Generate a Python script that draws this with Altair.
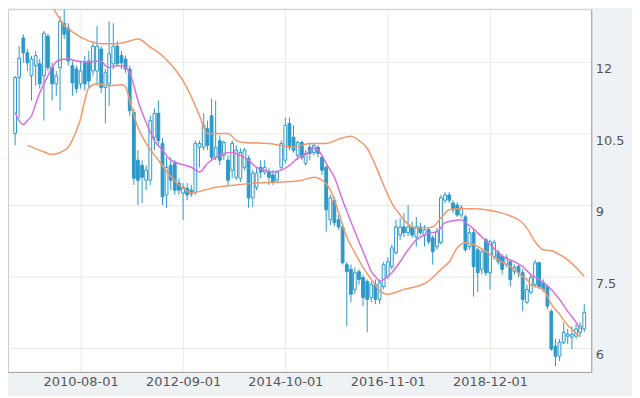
import altair as alt
import pandas as pd

# ---------------- data ----------------
start_month = "2009-04-01"
n_months = 140

opens = [10.50, 11.67, 12.50, 12.19, 11.71, 11.92, 11.96, 11.71, 12.54, 11.88,
         11.54, 11.88, 12.81, 12.71, 11.92, 11.85, 11.54, 11.98, 12.02, 11.81,
         11.81, 12.27, 11.46, 11.54, 11.96, 12.33, 12.13, 12.06, 11.85, 10.94,
         9.94, 9.83, 9.52, 9.52, 10.42, 10.92, 10.29, 9.21, 9.83, 9.87,
         9.46, 9.25, 9.35, 9.31, 9.27, 10.21, 10.21, 10.60, 10.87, 10.00,
         10.35, 10.04, 9.94, 9.73, 9.58, 9.56, 9.79, 9.98, 9.15, 9.37,
         9.79, 9.69, 9.69, 9.63, 9.52, 9.79, 9.94, 10.71, 10.42, 10.04,
         10.31, 9.87, 10.21, 10.10, 10.21, 10.00, 9.79, 8.69, 9.10, 8.69,
         8.54, 7.75, 7.65, 7.23, 7.60, 7.48, 7.40, 7.06, 7.33, 7.02,
         7.29, 7.50, 7.71, 8.00, 8.37, 8.54, 8.42, 8.54, 8.33, 8.54,
         8.37, 8.48, 8.31, 8.13, 8.21, 9.10, 9.21, 9.04, 9.00, 8.79,
         8.75, 8.13, 8.42, 8.06, 7.65, 8.27, 7.58, 7.92, 8.00, 7.92,
         7.75, 7.81, 7.60, 7.71, 7.58, 6.96, 7.17, 7.33, 7.79, 7.37,
         7.29, 6.77, 6.04, 5.83, 6.12, 6.25, 6.23, 6.25, 6.33, 6.40]

closes = [11.67, 12.08, 12.19, 11.98, 12.06, 12.13, 11.54, 12.60, 11.88, 11.54,
          11.71, 12.85, 12.58, 12.02, 11.56, 11.44, 11.81, 11.54, 11.60, 12.33,
          12.33, 11.46, 11.77, 12.17, 12.33, 11.96, 11.98, 11.85, 10.98, 9.56,
          9.52, 9.58, 9.73, 10.77, 10.92, 10.35, 9.17, 9.79, 9.52, 9.31,
          9.31, 9.37, 9.21, 9.23, 10.29, 10.29, 10.67, 10.25, 10.00, 10.21,
          9.94, 10.31, 9.52, 10.29, 10.15, 10.10, 10.15, 9.15, 9.67, 9.67,
          9.69, 9.79, 9.58, 9.48, 9.69, 10.29, 10.67, 10.21, 10.15, 10.31,
          10.00, 10.08, 10.08, 10.25, 10.08, 9.73, 8.90, 9.15, 8.63, 8.54,
          7.79, 7.60, 7.13, 7.58, 7.44, 7.06, 7.02, 7.33, 7.02, 7.37,
          7.75, 7.81, 8.10, 8.54, 8.54, 8.42, 8.54, 8.37, 8.54, 8.42,
          8.48, 8.23, 8.02, 8.44, 9.15, 9.21, 9.10, 8.90, 8.79, 8.94,
          8.06, 8.42, 7.71, 7.58, 8.02, 7.58, 8.23, 8.21, 7.81, 7.65,
          7.90, 7.44, 7.69, 7.58, 7.02, 7.23, 7.48, 7.79, 7.29, 7.23,
          6.88, 5.98, 5.83, 6.12, 6.33, 6.29, 6.29, 6.40, 6.46, 6.75]

highs = [11.71, 12.33, 12.58, 12.27, 12.13, 12.23, 12.06, 12.65, 12.58, 11.98,
         11.81, 12.96, 13.10, 12.81, 12.02, 11.92, 12.02, 12.13, 12.23, 12.44,
         12.75, 12.33, 11.85, 12.85, 12.81, 12.44, 12.23, 12.13, 11.92, 11.02,
         10.15, 9.94, 9.83, 10.87, 11.02, 11.19, 10.40, 10.00, 10.00, 9.94,
         9.56, 9.46, 9.46, 9.42, 10.35, 10.35, 10.92, 10.77, 11.23, 11.19,
         10.46, 10.35, 10.04, 10.35, 10.25, 10.19, 10.19, 10.04, 9.73, 9.77,
         9.94, 9.94, 9.77, 9.73, 9.73, 10.35, 10.83, 10.83, 10.67, 10.35,
         10.35, 10.15, 10.29, 10.29, 10.25, 10.04, 9.83, 9.21, 9.17, 8.79,
         8.58, 7.81, 7.75, 7.69, 7.65, 7.54, 7.44, 7.40, 7.44, 7.44,
         7.81, 7.90, 8.17, 8.69, 8.73, 8.83, 9.00, 8.65, 8.75, 8.63,
         8.58, 8.52, 8.37, 8.52, 9.21, 9.27, 9.27, 9.10, 9.06, 9.00,
         8.79, 8.52, 8.48, 8.10, 8.06, 8.31, 8.27, 8.27, 8.06, 7.96,
         7.96, 7.85, 7.75, 7.75, 7.65, 7.33, 7.54, 7.85, 7.81, 7.44,
         7.33, 6.81, 6.19, 6.19, 6.54, 6.40, 6.46, 6.50, 6.54, 6.92]

lows = [10.25, 10.83, 11.98, 11.81, 11.19, 11.50, 11.44, 10.77, 11.81, 11.19,
        11.29, 10.98, 12.48, 11.92, 11.29, 11.35, 11.44, 11.40, 11.44, 11.71,
        11.50, 11.35, 10.71, 11.08, 11.85, 11.92, 11.85, 11.77, 10.87, 9.42,
        9.00, 9.04, 9.31, 9.42, 10.15, 10.25, 9.00, 8.94, 9.31, 9.21,
        9.21, 8.69, 9.10, 9.17, 9.21, 9.79, 10.15, 10.15, 9.94, 9.94,
        9.83, 9.94, 9.42, 9.56, 9.52, 9.48, 9.73, 8.94, 8.96, 9.31,
        9.56, 9.63, 9.42, 9.42, 9.46, 9.73, 9.87, 10.15, 10.10, 9.94,
        9.94, 9.83, 9.94, 10.04, 10.00, 9.63, 8.44, 8.58, 8.56, 8.48,
        7.75, 6.46, 6.96, 7.13, 7.33, 6.88, 6.33, 6.96, 6.92, 6.92,
        7.23, 7.44, 7.65, 7.96, 8.27, 8.33, 8.35, 8.31, 8.13, 8.37,
        8.13, 8.17, 7.75, 8.06, 8.17, 9.04, 9.04, 8.83, 8.75, 8.73,
        8.02, 8.06, 7.08, 7.17, 7.54, 7.52, 7.23, 7.85, 7.75, 7.54,
        7.69, 7.29, 7.54, 7.48, 6.77, 6.92, 7.13, 7.27, 7.23, 7.17,
        6.81, 5.94, 5.62, 5.73, 6.08, 6.08, 5.98, 6.19, 6.25, 6.33]

# Upper band (orange), month index -> value
upper_idx = [5, 9, 12, 14, 18, 21, 25, 28, 30, 33, 36, 39, 41, 43, 45, 47, 50, 52, 54, 56,
             62, 68, 72, 76, 79, 82, 84, 86, 88, 90, 92, 94, 96, 98, 100, 102, 104, 106, 108, 112,
             115, 118, 121, 123, 125, 127, 129, 131, 133, 135, 137, 139]
upper_val = [13.79, 13.17, 12.77, 12.63, 12.44, 12.38, 12.38, 12.44, 12.48, 12.31,
             12.13, 11.85, 11.60, 11.27, 10.87, 10.50, 10.50, 10.50, 10.35, 10.31,
             10.29, 10.21, 10.29, 10.29, 10.38, 10.44, 10.35, 10.19, 9.83, 9.42,
             9.04, 8.79, 8.60, 8.52, 8.52, 8.54, 8.73, 8.90, 8.92, 8.92,
             8.90, 8.85, 8.77, 8.69, 8.52, 8.23, 8.06, 8.04, 7.96, 7.85,
             7.69, 7.50]

# Lower band (orange)
lower_idx = [3, 6, 9, 11, 13, 15, 16, 17, 18, 20, 23, 26, 27, 28, 30, 32, 35, 38, 41, 43,
             46, 49, 54, 59, 65, 70, 73, 75, 77, 79, 81, 83, 85, 87, 89, 91, 93, 95, 98, 100,
             102, 104, 106, 108, 110, 112, 115, 118, 121, 124, 125, 126, 128, 129, 130, 131,
             133, 135, 137, 138]
lower_val = [10.25, 10.15, 10.06, 10.10, 10.21, 10.56, 10.81, 11.19, 11.46, 11.54,
             11.50, 11.52, 11.48, 11.19, 10.63, 10.29, 9.94, 9.60, 9.35, 9.25,
             9.31, 9.37, 9.42, 9.46, 9.48, 9.52, 9.58, 9.52, 9.31, 8.85,
             8.33, 8.00, 7.69, 7.44, 7.21, 7.13, 7.17, 7.23, 7.29, 7.35,
             7.48, 7.65, 7.81, 8.10, 8.21, 8.17, 8.02, 7.85, 7.71, 7.50,
             7.44, 7.33, 7.27, 7.23, 7.08, 6.92, 6.71, 6.48, 6.31, 6.23]

# Moving average (magenta)
ma_idx = [0, 1, 2, 3, 4, 5, 6, 7, 8, 9, 10, 11, 13, 15, 18, 21, 22, 23, 25, 26,
          28, 29, 30, 32, 34, 36, 38, 40, 43, 45, 47, 49, 51, 53, 55, 57, 59, 61, 63, 65,
          67, 69, 71, 73, 74, 75, 76, 78, 80, 82, 84, 86, 87, 88, 89, 90, 92, 94, 96, 98,
          100, 102, 103, 104, 105, 107, 109, 110, 112, 114, 116, 118, 120, 122, 124, 126,
          128, 129, 131, 133, 135, 137, 138]
ma_val = [10.94, 10.77, 10.69, 10.77, 10.87, 11.12, 11.35, 11.54, 11.71, 11.88,
          12.00, 12.04, 12.06, 12.02, 12.00, 12.02, 11.92, 11.88, 11.92, 11.92,
          11.77, 11.50, 11.19, 10.73, 10.35, 10.15, 9.94, 9.87, 9.79, 9.69,
          9.87, 10.00, 10.08, 10.10, 10.04, 9.94, 9.79, 9.73, 9.69, 9.73,
          9.83, 9.98, 10.06, 10.19, 10.15, 10.04, 9.87, 9.58, 9.10, 8.65,
          8.23, 7.81, 7.60, 7.50, 7.40, 7.44, 7.58, 7.81, 8.06, 8.27,
          8.37, 8.42, 8.44, 8.52, 8.63, 8.67, 8.69, 8.63, 8.50, 8.33,
          8.17, 8.00, 7.88, 7.81, 7.71, 7.54, 7.44, 7.37, 7.23, 7.02,
          6.77, 6.54, 6.40]

x_ticks = ["2010-08-01", "2012-09-01", "2014-10-01", "2016-11-01", "2018-12-01"]
y_ticks = [6, 7.5, 9, 10.5, 12]

# ---------------- styling ----------------
BLUE = "#2b99cb"
ORANGE = "#f5976a"
MAGENTA = "#d96ee0"
GRID = "#ebebe3"
LABEL = "#555555"
FONT = "DejaVu Sans"

dates = pd.date_range(start_month, periods=n_months, freq="MS")
date_str = [d.strftime("%Y-%m-%d") for d in dates]

candles = pd.DataFrame({"date": date_str, "open": opens, "close": closes,
                        "high": highs, "low": lows})
upper_df = pd.DataFrame({"date": [date_str[i] for i in upper_idx], "v": upper_val})
lower_df = pd.DataFrame({"date": [date_str[i] for i in lower_idx], "v": lower_val})
ma_df = pd.DataFrame({"date": [date_str[i] for i in ma_idx], "v": ma_val})


def dt(s):
    y, m, d = (int(p) for p in s.split("-"))
    return alt.DateTime(year=y, month=m, date=d, utc=True)


x_scale = alt.Scale(type="utc", domain=[dt("2009-03-16"), dt("2020-11-16")])
x_axis = alt.Axis(values=[dt(t) for t in x_ticks],
                  labelExpr="utcFormat(datum.value, '%Y-%m-%d')",
                  title=None, grid=True, gridColor=GRID, gridWidth=1, ticks=False,
                  domainColor="#a0a0a0", labelColor=LABEL, labelFontSize=13,
                  labelFont=FONT, labelPadding=4, labelFlush=False)
y_scale = alt.Scale(domain=[5.5, 13.104], nice=False, zero=False)
y_axis = alt.Axis(orient="right", values=y_ticks,
                  labelExpr="format(datum.value, '.1~f')", title=None, grid=True,
                  gridColor=GRID, gridWidth=1, ticks=False, domainColor="#a0a0a0",
                  labelColor=LABEL, labelFontSize=13, labelFont=FONT, labelPadding=4,
                  labelBaseline="top", labelAlign="left", labelOffset=1)


def X():
    return alt.X("date:T", scale=x_scale, axis=x_axis)


def Y(field):
    return alt.Y(f"{field}:Q", scale=y_scale, axis=y_axis)


wicks = alt.Chart(candles).mark_rule(color=BLUE, strokeWidth=1, clip=True).encode(
    x=X(), y=Y("low"), y2="high:Q")

bodies = alt.Chart(candles).mark_bar(size=2.8, stroke=BLUE, strokeWidth=1, clip=True).encode(
    x=X(), y=Y("open"), y2="close:Q",
    fill=alt.condition("datum.close >= datum.open", alt.value("#ffffff"), alt.value(BLUE)))

upper = alt.Chart(upper_df).mark_line(color=ORANGE, strokeWidth=1.5, clip=True,
                                      interpolate="monotone").encode(x=X(), y=Y("v"))
lower = alt.Chart(lower_df).mark_line(color=ORANGE, strokeWidth=1.5, clip=True,
                                      interpolate="monotone").encode(x=X(), y=Y("v"))
ma = alt.Chart(ma_df).mark_line(color=MAGENTA, strokeWidth=1.5, clip=True,
                                interpolate="monotone").encode(x=X(), y=Y("v"))

chart = alt.layer(wicks, bodies, upper, lower, ma).properties(
    width=587, height=365, background="#eef2f5",
    padding={"left": 0, "top": 0, "right": 8, "bottom": 6},
    view=alt.ViewBackground(fill="#ffffff", stroke="#cfcfcf", strokeWidth=1),
).configure(font=FONT)

chart.save("out.html", embed_options={"renderer": "svg", "actions": False})
